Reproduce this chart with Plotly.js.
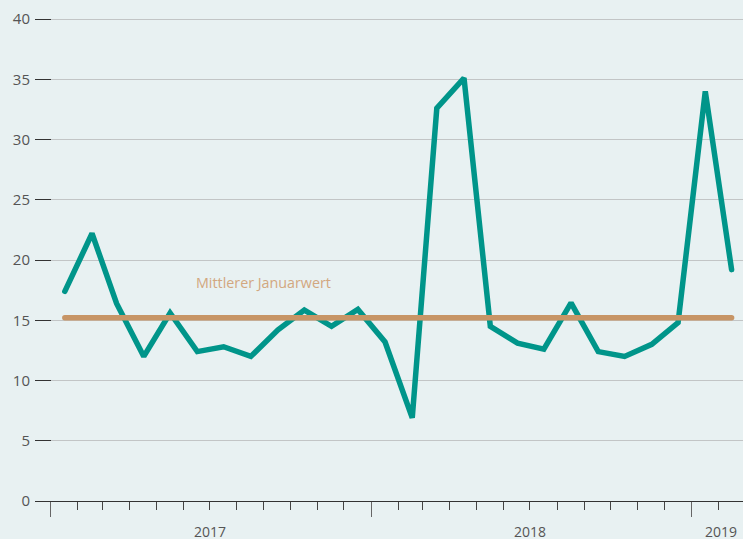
<!DOCTYPE html>
<html><head><meta charset="utf-8">
<script src="https://cdn.plot.ly/plotly-3.0.1.min.js"></script>
<style>
html,body{margin:0;padding:0;background:#e8f1f2;}
#chart{width:743px;height:539px;}
.js-line{stroke-linecap:round;}
</style>
</head><body><div id="chart"></div>
<script>
const months = ['2017-01-17','2017-02-17','2017-03-17','2017-04-17','2017-05-17','2017-06-17',
  '2017-07-17','2017-08-17','2017-09-17','2017-10-17','2017-11-17','2017-12-17',
  '2018-01-17','2018-02-17','2018-03-17','2018-04-17','2018-05-17','2018-06-17',
  '2018-07-17','2018-08-17','2018-09-17','2018-10-17','2018-11-17','2018-12-17',
  '2019-01-17','2019-02-16'];
const values = [17.4, 22.2, 16.4, 12.0, 15.6, 12.4, 12.8, 12.0, 14.2, 15.85, 14.5, 15.9,
  13.2, 6.9, 32.6, 35.1, 14.5, 13.1, 12.6, 16.45, 12.4, 12.0, 13.0, 14.8, 34.0, 19.2];
const meanValue = 15.2;
const meanLabel = 'Mittlerer Januarwert';
const meanLabelPos = ['2017-08-31', 18.1];
const yearLabels = ['2017', '2018', '2019'];
const yearLabelPos = ['2017-07-01', '2018-07-01', '2019-02-04'];
const majorTicks = ['2017-01-01', '2018-01-01', '2019-01-01'];
const yTicks = [0, 5, 10, 15, 20, 25, 30, 35, 40];

const traces = [
  {x: months, y: values, type: 'scatter', mode: 'lines',
   line: {color: '#00958a', width: 5.5}, hoverinfo: 'skip'},
  {x: [months[0], months[months.length - 1]], y: [meanValue, meanValue],
   type: 'scatter', mode: 'lines', line: {color: '#c79566', width: 5.5}, hoverinfo: 'skip'}
];

const annotations = yearLabels.map((t, i) => ({
  x: yearLabelPos[i], y: 0, xref: 'x', yref: 'paper', yanchor: 'top', xanchor: 'center',
  yshift: -19, text: t, showarrow: false, font: {size: 14, color: '#555'}
}));
annotations.push({x: meanLabelPos[0], y: meanLabelPos[1], xref: 'x', yref: 'y',
  text: meanLabel, showarrow: false, xanchor: 'center', yanchor: 'middle',
  font: {size: 14.3, color: '#d2a780'}});

const layout = {
  width: 743, height: 539,
  margin: {l: 35, r: 0, t: 13, b: 38},
  paper_bgcolor: '#e8f1f2', plot_bgcolor: '#e8f1f2',
  font: {family: '"Open Sans", sans-serif', color: '#555'},
  showlegend: false,
  xaxis: {
    type: 'date', range: ['2016-12-14', '2019-03-01'],
    tickmode: 'array', tickvals: majorTicks, showticklabels: false,
    ticks: 'outside', ticklen: 15, tickcolor: '#666', tickwidth: 1,
    showgrid: false, zeroline: false, showline: true, linecolor: '#333', linewidth: 1,
    minor: {dtick: 'M1', tick0: '2017-01-01', ticks: 'outside', ticklen: 8,
            tickcolor: '#444', tickwidth: 1, showgrid: false}
  },
  yaxis: {
    range: [0, 40.5], tickmode: 'array', tickvals: yTicks,
    ticks: 'inside', ticklen: 16, tickcolor: '#333', tickwidth: 1,
    showgrid: true, gridcolor: '#c2c5c6', gridwidth: 1,
    zeroline: false, showline: false,
    ticklabelstandoff: 4,
    tickfont: {size: 15, color: '#555'}
  },
  annotations: annotations
};

Plotly.newPlot('chart', traces, layout, {staticPlot: true, displayModeBar: false});
</script>
</body></html>
